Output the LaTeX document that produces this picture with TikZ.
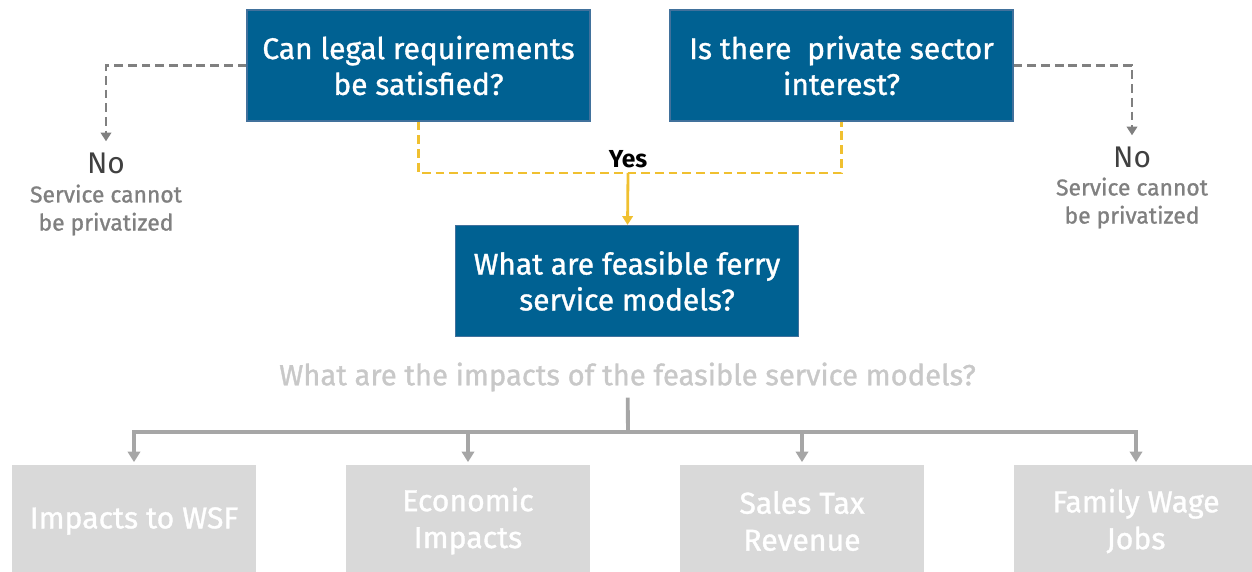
\documentclass[tikz,border=0pt]{standalone}
\usepackage{fontspec}
\setmainfont{Fira Sans}
\newfontfamily\firamed{Fira Sans}[UprightFeatures={FakeBold=1.1}]
\usetikzlibrary{arrows.meta,positioning}
\definecolor{boxblue}{RGB}{0,97,146}
\definecolor{boxedge}{RGB}{65,113,156}
\definecolor{impactfill}{RGB}{217,217,217}
\definecolor{impactline}{RGB}{166,166,166}
\definecolor{asktext}{RGB}{200,200,200}
\definecolor{nodark}{RGB}{64,64,64}
\definecolor{nogray}{RGB}{128,128,128}
\definecolor{yesgold}{RGB}{240,192,48}

\begin{document}
\begin{tikzpicture}[node distance = 2cm, auto]
\tikzstyle{block} = [rectangle, draw=boxedge, line width=0.7pt, fill=boxblue, text=white,
    align=center, minimum width=6.86cm, minimum height=2.22cm,
    inner sep=0pt, font=\firamed\fontsize{17}{20.4}\selectfont]
\tikzstyle{impact} = [rectangle, fill=impactfill, text=white,
    align=center, minimum width=4.88cm, minimum height=2.24cm,
    inner sep=0pt, font=\firamed\fontsize{17.2}{21}\selectfont]
\tikzstyle{ask} = [text=asktext, font=\firamed\fontsize{16.6}{18}\selectfont]
\tikzstyle{nolabel} = [text=nodark, font=\fontsize{17}{18}\selectfont]
\tikzstyle{notext} = [text=nogray, align=center, font=\firamed\fontsize{13}{16}\selectfont]
\tikzstyle{noline} = [draw=nogray, line width=1.6pt, dash pattern=on 5pt off 2.8pt,
    -{Triangle[width=6pt,length=5pt]}, shorten >=0.1cm]
\tikzstyle{yesline} = [draw=yesgold, line width=1.6pt, dash pattern=on 5pt off 2.8pt]
\tikzstyle{yesarrow} = [draw=yesgold, line width=1.6pt, -{Triangle[width=6pt,length=5pt]}]
\tikzstyle{line} = [draw=impactline, line width=2.2pt]
\tikzstyle{linearrow} = [line, -{Triangle[width=7pt,length=6pt]}, shorten >=0.05cm]

    \useasboundingbox (0,0) rectangle (25.04,-11.44);
    % Place nodes
    \node [block] (legal) at (8.37,-1.31) {Can legal requirements\\be satisfied?};
    \node [block, right of=legal, node distance=8.46cm] (private) {Is there\ \ private sector\\interest?};
    \coordinate (join) at (12.56,-3.46);
    \node [font=\fontsize{14}{16}\selectfont\bfseries] (yes) at (12.56,-3.18) {Yes};
    \node [block] (feasible) at (12.54,-5.62) {What are feasible ferry\\service models?};
    \node [nolabel] (noL) at (2.12,-3.26) {No};
    \node [notext] (noLtext) at (2.12,-4.20) {Service cannot\\be privatized};
    \node [nolabel] (noR) at (22.64,-3.14) {No};
    \node [notext] (noRtext) at (22.64,-4.06) {Service cannot\\be privatized};
    \node [ask] (question) at (12.55,-7.54) {What are the impacts of the feasible service models?};
    \coordinate (hub) at (12.56,-8.64);
    \node [impact] (wsf) at (2.68,-10.42) {Impacts to WSF};
    \node [impact, right of=wsf, node distance=6.68cm] (econ) {Economic\\Impacts};
    \node [impact, right of=econ, node distance=6.68cm] (tax) {Sales Tax\\Revenue};
    \node [impact, right of=tax, node distance=6.68cm] (jobs) {Family Wage\\Jobs};
    % Draw edges
    \path [noline] (legal) -| (noL);
    \path [noline] (private) -| (noR);
    \path [yesline] (legal) |- (join) -| (private);
    \path [yesarrow] (join) -- (feasible);
    \path [line] (question) -- (hub);
    \path [linearrow] (hub) -| (wsf);
    \path [linearrow] (hub) -| (econ);
    \path [linearrow] (hub) -| (tax);
    \path [linearrow] (hub) -| (jobs);
\end{tikzpicture}
\end{document}
